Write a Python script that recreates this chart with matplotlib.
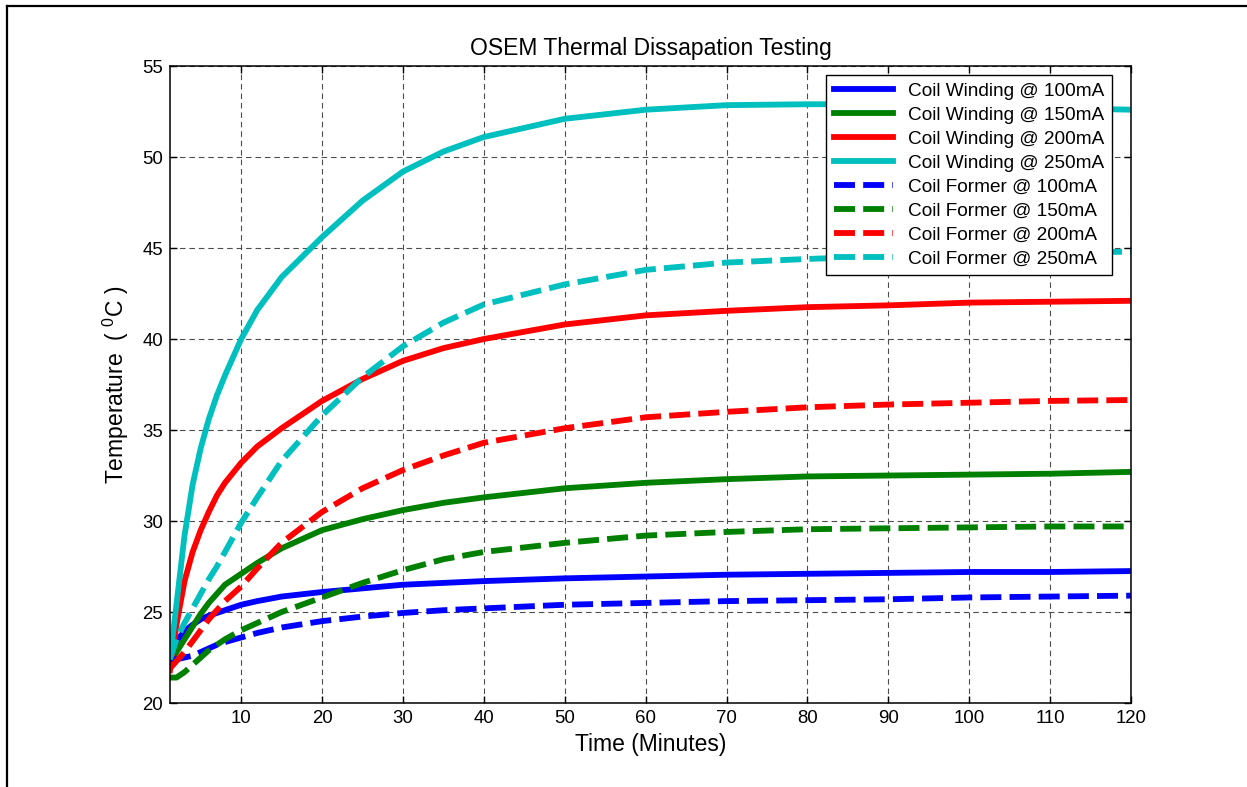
import matplotlib
matplotlib.use('Agg')
import matplotlib.pyplot as plt
from matplotlib.lines import Line2D

plt.rcParams['font.family'] = ['Liberation Sans', 'DejaVu Sans']
plt.rcParams['mathtext.fontset'] = 'custom'
plt.rcParams['mathtext.rm'] = 'Liberation Sans'

# time (minutes)
t = [1.2, 2, 3, 4, 5, 6, 7, 8, 10, 12, 15, 20, 25, 30, 35, 40,
     50, 60, 70, 80, 90, 100, 110, 120]

# coil winding temperatures (deg C)
w100 = [22.5, 23.4, 23.95, 24.3, 24.6, 24.8, 24.95, 25.1, 25.4, 25.6, 25.85, 26.1,
        26.3, 26.5, 26.6, 26.7, 26.85, 26.95, 27.05, 27.1, 27.15, 27.2, 27.2, 27.25]
w150 = [22.2, 22.8, 23.5, 24.2, 24.9, 25.5, 26.0, 26.5, 27.1, 27.7, 28.5, 29.5,
        30.1, 30.6, 31.0, 31.3, 31.8, 32.1, 32.3, 32.45, 32.5, 32.55, 32.6, 32.7]
w200 = [21.8, 24.3, 26.7, 28.3, 29.5, 30.5, 31.4, 32.1, 33.2, 34.1, 35.1, 36.6,
        37.8, 38.8, 39.5, 40.0, 40.8, 41.3, 41.55, 41.75, 41.85, 42.0, 42.05, 42.1]
w250 = [22.4, 25.4, 29.2, 32.0, 34.0, 35.6, 36.9, 38.0, 40.0, 41.6, 43.4, 45.6,
        47.6, 49.2, 50.3, 51.1, 52.1, 52.6, 52.85, 52.9, 52.9, 52.85, 52.7, 52.6]

# coil former temperatures (deg C)
f100 = [22.4, 22.4, 22.5, 22.6, 22.8, 23.0, 23.2, 23.35, 23.6, 23.85, 24.15, 24.5,
        24.75, 24.95, 25.1, 25.2, 25.4, 25.5, 25.6, 25.65, 25.7, 25.8, 25.85, 25.9]
f150 = [21.4, 21.4, 21.7, 22.1, 22.5, 22.9, 23.2, 23.5, 24.0, 24.4, 25.0, 25.8,
        26.6, 27.3, 27.9, 28.3, 28.8, 29.2, 29.4, 29.55, 29.6, 29.65, 29.7, 29.7]
f200 = [21.9, 22.3, 22.8, 23.4, 24.0, 24.6, 25.1, 25.6, 26.4, 27.4, 28.8, 30.5,
        31.8, 32.8, 33.6, 34.3, 35.1, 35.7, 36.0, 36.25, 36.4, 36.5, 36.6, 36.65]
f250 = [22.4, 23.5, 24.4, 25.2, 26.0, 26.8, 27.5, 28.3, 29.9, 31.3, 33.3, 35.8,
        37.9, 39.6, 40.9, 41.9, 43.0, 43.8, 44.2, 44.4, 44.55, 44.7, 44.75, 44.8]

currents = ['100mA', '150mA', '200mA', '250mA']
colors = ['#0000ff', '#008000', '#ff0000', '#00bfbf']

fig = plt.figure(figsize=(12.47, 7.87), dpi=100)
ax = fig.add_axes([0.1363, 0.1067, 0.7707, 0.8094])

for y, c, cur in zip([w100, w150, w200, w250], colors, currents):
    ax.plot(t, y, color=c, lw=4.2, label='Coil Winding @ ' + cur)
for y, c, cur in zip([f100, f150, f200, f250], colors, currents):
    ax.plot(t, y, color=c, lw=4.2, dashes=(3.6, 1.4), label='Coil Former @ ' + cur)

ax.set_xlim(1.2, 120)
ax.set_ylim(20, 55)
ax.set_xticks(range(10, 121, 10))
ax.set_yticks(range(20, 56, 5))
ax.tick_params(direction='in', top=True, right=True, length=5, width=1,
               labelsize=13.4, pad=5)
ax.grid(True, color='0.3', lw=0.8, dashes=(5, 3.5))
for s in ax.spines.values():
    s.set_linewidth(1.1)

ax.set_title('OSEM Thermal Dissapation Testing', fontsize=16.5, pad=8)
ax.set_xlabel('Time (Minutes)', fontsize=16.5, labelpad=4)
ax.set_ylabel(r'Temperature  ( $^{\mathregular{0}}$C )', fontsize=16.5, labelpad=8)

leg = ax.legend(loc='upper right', bbox_to_anchor=(0.9802, 0.9859), borderaxespad=0,
                fontsize=13.7, fancybox=False, framealpha=1, edgecolor='black',
                handlelength=3.1, labelspacing=0.35, borderpad=0.4)
leg.get_frame().set_linewidth(1.0)

# figure border (left and top)
fig.add_artist(Line2D([0.0056, 0.0056], [0, 0.9924], color='black', lw=1.6,
                      transform=fig.transFigure))
fig.add_artist(Line2D([0.0056, 1.0], [0.9924, 0.9924], color='black', lw=1.6,
                      transform=fig.transFigure))

fig.savefig('out.png', dpi=100)
